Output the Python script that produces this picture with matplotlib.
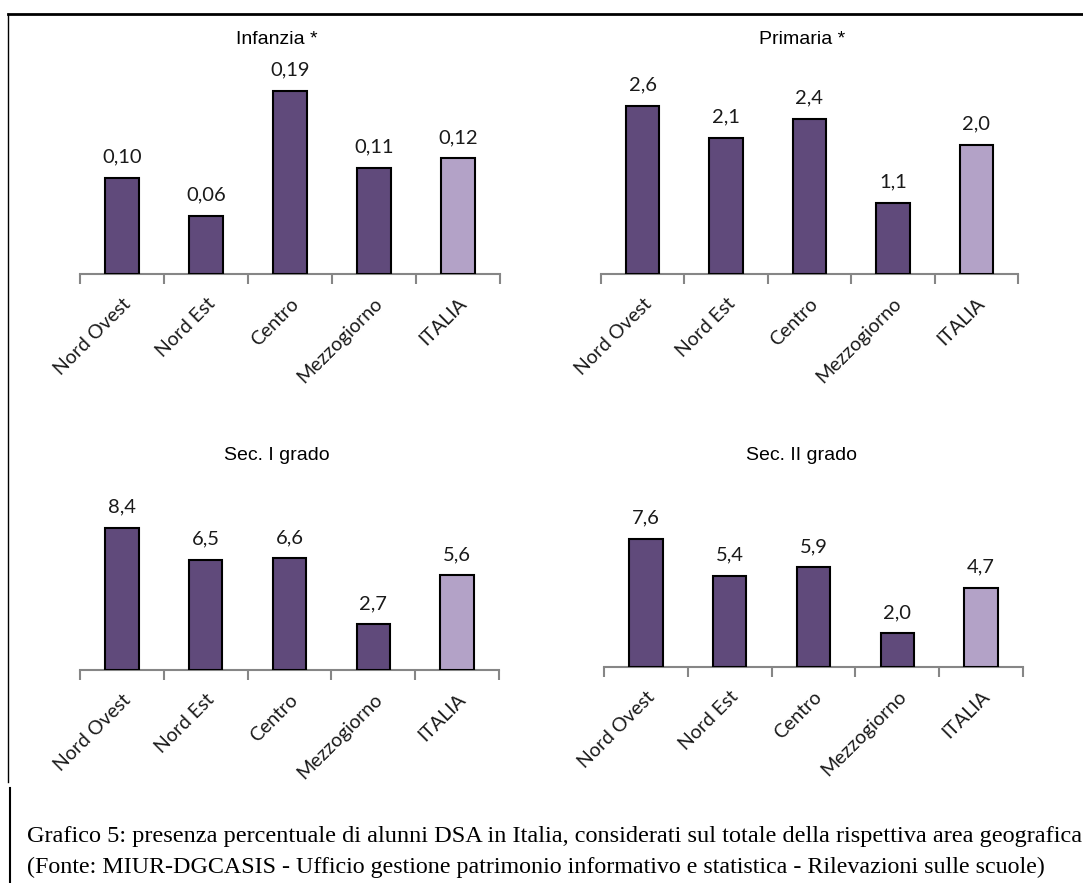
import numpy as np
import matplotlib
matplotlib.use("Agg")
import matplotlib.pyplot as plt
from matplotlib.lines import Line2D

# dati
aree = ["Nord Ovest", "Nord Est", "Centro", "Mezzogiorno", "ITALIA"]
infanzia = [0.10, 0.06, 0.19, 0.11, 0.12]
primaria = [2.6, 2.1, 2.4, 1.1, 2.0]
sec_primo = [8.4, 6.5, 6.6, 2.7, 5.6]
sec_secondo = [7.6, 5.4, 5.9, 2.0, 4.7]
etichette_inf = ["0,10", "0,06", "0,19", "0,11", "0,12"]

titoli = ["Infanzia *", "Primaria *", "Sec. I grado", "Sec. II grado"]
serie = [infanzia, primaria, sec_primo, sec_secondo]

caption1 = "Grafico 5: presenza percentuale di alunni DSA in Italia, considerati sul totale della rispettiva area geografica"
caption2 = "(Fonte: MIUR-DGCASIS - Ufficio gestione patrimonio informativo e statistica - Rilevazioni sulle scuole)"

W, H = 1083, 883
fig = plt.figure(figsize=(W / 100, H / 100), dpi=100)

scuro = "#604A7B"
chiaro = "#B3A2C7"
grigio = "#868686"

# (x sinistra, x destra, linea di base, px per unità, centro titolo x, y titolo) in pixel
pannelli = [
    (80, 500, 274, 965, 277, 39),
    (601, 1018, 274, 64.7, 802, 39),
    (80, 499, 670, 16.9, 277, 455),
    (604, 1023, 667, 16.9, 802, 455),
]

altezza = 200  # px di area grafico sopra la base

for i, (x0, x1, base, scala, tx, ty) in enumerate(pannelli):
    ax = fig.add_axes([x0 / W, (H - base) / H, (x1 - x0) / W, altezza / H])
    valori = serie[i]
    colori = [scuro] * 4 + [chiaro]
    pos = np.arange(len(aree))
    ax.bar(pos, valori, width=0.4, color=colori, edgecolor="black", linewidth=1.5, zorder=3)
    ax.set_xlim(-0.5, len(aree) - 0.5)
    ax.set_ylim(0, altezza / scala)
    for p, v in zip(pos, valori):
        if i == 0:
            lab = etichette_inf[p]
        else:
            lab = f"{v:.1f}".replace(".", ",")
        ax.annotate(lab, (p, v), xytext=(0, 11), textcoords="offset points",
                    ha="center", va="baseline", fontsize=14.5, family="Lato", color="#1a1a1a")
    for s in ["top", "right", "left"]:
        ax.spines[s].set_visible(False)
    ax.spines["bottom"].set_color(grigio)
    ax.spines["bottom"].set_linewidth(1.5)
    ax.set_yticks([])
    ax.set_xticks(pos)
    ax.set_xticklabels(aree, rotation=45, ha="right", rotation_mode="anchor",
                       fontsize=14, family="Lato", color="#1a1a1a")
    ax.tick_params(axis="x", which="major", length=0, pad=15)
    ax.set_xticks(np.arange(-0.5, len(aree)), minor=True)
    ax.tick_params(axis="x", which="minor", length=7, width=1.5, color=grigio)
    ax.patch.set_alpha(0)
    fig.text(tx / W, 1 - ty / H, titoli[i], ha="center", va="center",
             fontsize=14, family="Liberation Sans", color="black")

# cornice
fig.add_artist(Line2D([8 / W, 1], [1 - 14 / H, 1 - 14 / H], color="black", linewidth=2))
fig.add_artist(Line2D([8 / W, 8 / W], [1 - 14 / H, 1 - 782 / H], color="black", linewidth=1))
fig.add_artist(Line2D([10 / W, 10 / W], [1 - 788 / H, 0], color="black", linewidth=1.5))

fig.text(27 / W, 1 - 842 / H, caption1, ha="left", va="baseline", fontsize=17.5,
         family="Liberation Serif")
fig.text(27 / W, 1 - 873 / H, caption2, ha="left", va="baseline", fontsize=17.3,
         family="Liberation Serif")

fig.savefig("out.png", dpi=100)
